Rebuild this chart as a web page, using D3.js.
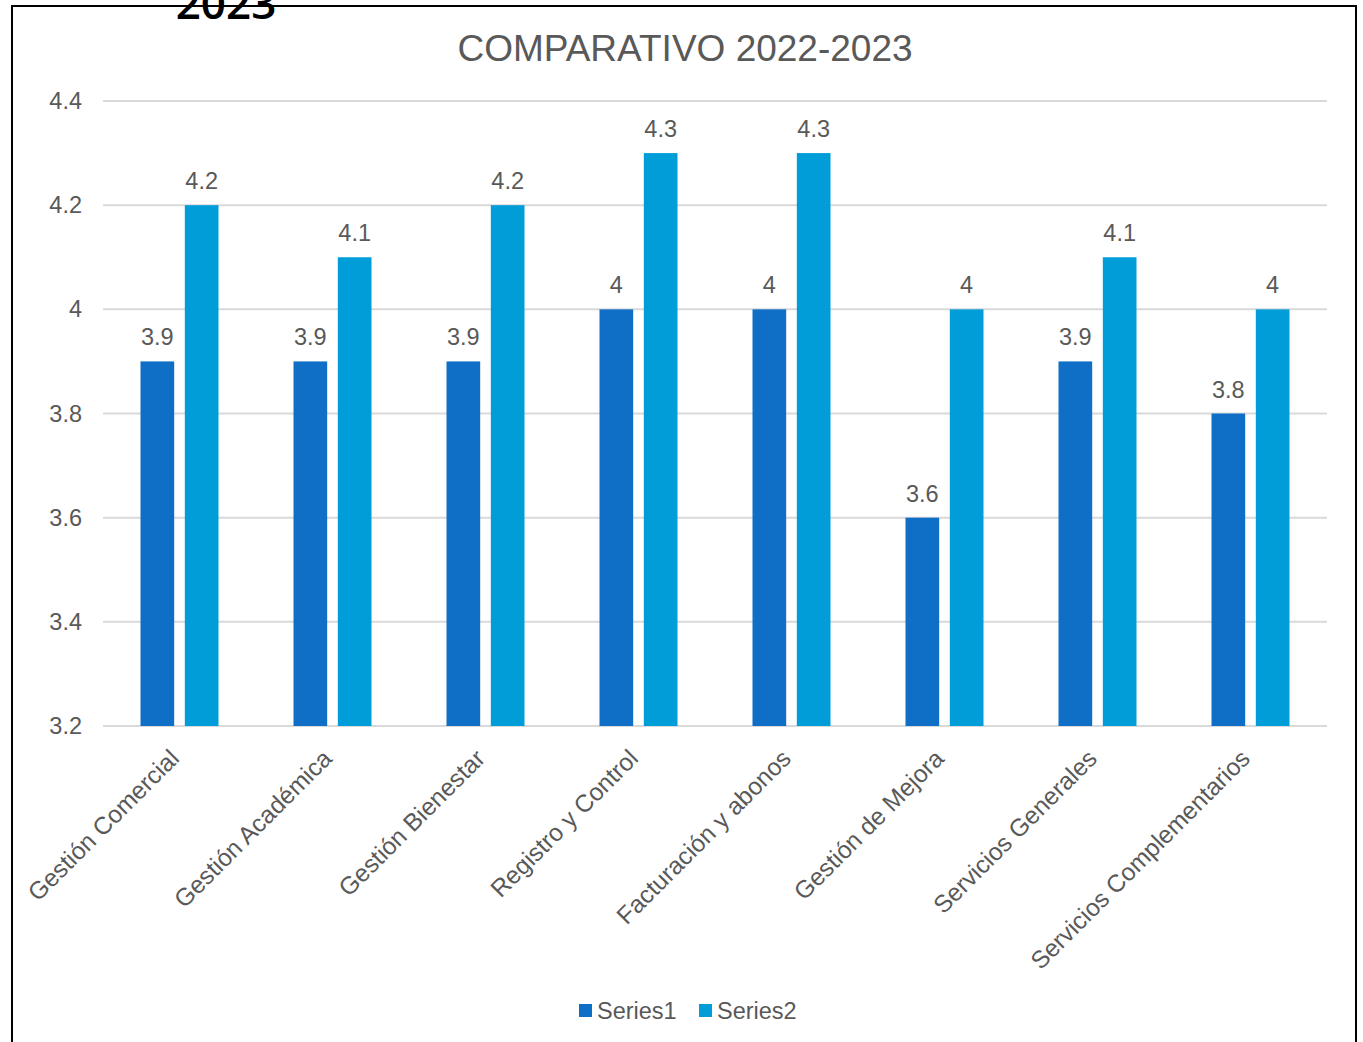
<!DOCTYPE html>
<html>
<head>
<meta charset="utf-8">
<script src="https://cdn.jsdelivr.net/npm/d3@7"></script>
<style>
  body { margin: 0; background: #fff; }
  #container { position: relative; width: 1363px; height: 1042px; overflow: hidden; }
  text { font-family: "Liberation Sans", Arial, sans-serif; }
</style>
</head>
<body>
<div id="container"></div>
<script>
const categories = ["Gestión Comercial", "Gestión Académica", "Gestión Bienestar", "Registro y Control",
                    "Facturación y abonos", "Gestión de Mejora", "Servicios Generales", "Servicios Complementarios"];
const series1 = [3.9, 3.9, 3.9, 4, 4, 3.6, 3.9, 3.8];
const series2 = [4.2, 4.1, 4.2, 4.3, 4.3, 4, 4.1, 4];
const seriesNames = ["Series1", "Series2"];
const yTicks = [3.2, 3.4, 3.6, 3.8, 4, 4.2, 4.4];

const width = 1363, height = 1042;
const margin = { top: 101, right: 36, bottom: 316, left: 103 };
const colors = ["#0F6FC6", "#009DD9"];
const textColor = "#595959";

const svg = d3.select("#container").append("svg")
              .attr("width", width)
              .attr("height", height);

// outer frame (bottom runs off the page)
svg.append("path")
   .attr("d", "M12,1060 L12,6 L1356,6 L1356,1060")
   .attr("fill", "none")
   .attr("stroke", "#000")
   .attr("stroke-width", 2);

// leftover heading from the document, clipped at top
svg.append("text")
   .attr("x", 226).attr("y", 19)
   .attr("text-anchor", "middle")
   .style("font-family", "'Open Sans', 'DejaVu Sans', sans-serif")
   .style("font-weight", "600")
   .style("font-size", "44px")
   .attr("fill", "#000")
   .text("2023");

svg.append("text")
   .attr("x", 685).attr("y", 61)
   .attr("text-anchor", "middle")
   .style("font-size", "37px")
   .attr("fill", textColor)
   .text("COMPARATIVO 2022-2023");

const chartWidth = width - margin.left - margin.right;
const chartHeight = height - margin.top - margin.bottom;

const xScale = d3.scaleBand().domain(categories).range([0, chartWidth]);
const inner = d3.scaleBand().domain(seriesNames).range([0, 78]).paddingInner(0.24);
const yScale = d3.scaleLinear().domain([3.2, 4.4]).range([chartHeight, 0]);

const g = svg.append("g").attr("transform", "translate(" + margin.left + "," + margin.top + ")");

// gridlines
g.append("g").selectAll("line")
 .data(yTicks)
 .join("line")
 .attr("x1", 0).attr("x2", chartWidth)
 .attr("y1", d => yScale(d)).attr("y2", d => yScale(d))
 .attr("stroke", "#d9d9d9")
 .attr("stroke-width", 2);

// y axis labels
const yAxis = d3.axisLeft(yScale).tickValues(yTicks).tickSize(0).tickPadding(21).tickFormat(d3.format("~g"));
const yAxisG = g.append("g").call(yAxis);
yAxisG.select(".domain").remove();
yAxisG.selectAll("text").style("font-size", "23.5px").attr("fill", textColor)
      .style("font-family", "'Liberation Sans', Arial, sans-serif");

const data = categories.map((c, i) => ({ cat: c, values: [series1[i], series2[i]] }));

const groups = g.selectAll(".grp")
  .data(data)
  .join("g")
  .attr("class", "grp")
  .attr("transform", d => "translate(" + (xScale(d.cat) + xScale.bandwidth() / 2 - 39) + ",0)");

groups.selectAll("rect")
  .data(d => d.values.map((v, j) => ({ name: seriesNames[j], v: v, j: j })))
  .join("rect")
  .attr("x", d => inner(d.name))
  .attr("width", inner.bandwidth())
  .attr("y", d => yScale(d.v))
  .attr("height", d => chartHeight - yScale(d.v))
  .attr("fill", d => colors[d.j]);

groups.selectAll(".lbl")
  .data(d => d.values.map((v, j) => ({ name: seriesNames[j], v: v })))
  .join("text")
  .attr("class", "lbl")
  .attr("x", d => inner(d.name) + inner.bandwidth() / 2)
  .attr("y", d => yScale(d.v) - 16)
  .attr("text-anchor", "middle")
  .style("font-size", "23.5px")
  .attr("fill", textColor)
  .text(d => d3.format("~g")(d.v));

// x axis labels rotated
const xAxis = d3.axisBottom(xScale).tickSize(0).tickPadding(0);
const xAxisG = g.append("g").attr("transform", "translate(0," + chartHeight + ")").call(xAxis);
xAxisG.select(".domain").remove();
xAxisG.selectAll("text")
      .style("font-size", "24.5px")
      .style("font-family", "'Liberation Sans', Arial, sans-serif")
      .attr("fill", textColor)
      .attr("text-anchor", "end")
      .attr("dy", "0")
      .attr("transform", "translate(1,34) rotate(-45)");

// legend
const legend = svg.append("g").attr("transform", "translate(579,1004)");
const legendX = [0, 120];
seriesNames.forEach((s, i) => {
  legend.append("rect").attr("x", legendX[i]).attr("y", 0).attr("width", 13).attr("height", 13).attr("fill", colors[i]);
  legend.append("text").attr("x", legendX[i] + 18).attr("y", 15)
        .style("font-size", "23.5px").attr("fill", textColor).text(s);
});
</script>
</body>
</html>
